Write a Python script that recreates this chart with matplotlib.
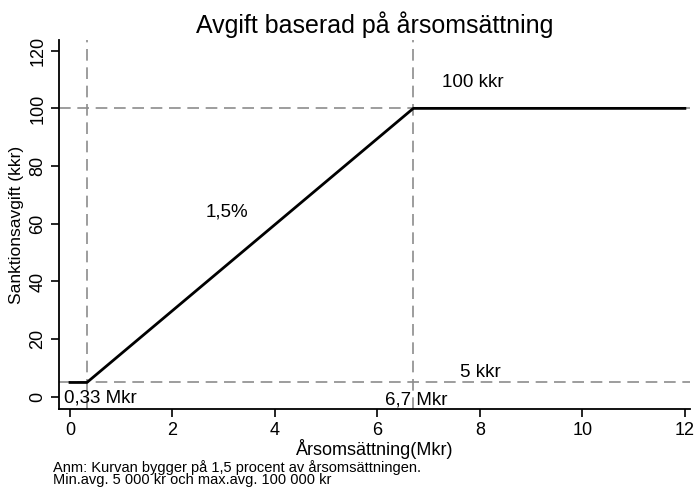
"""Sanktionsavgift som funktion av årsomsättning."""

import matplotlib

matplotlib.use("Agg")
import matplotlib.pyplot as plt

plt.rcParams["font.family"] = ["Liberation Sans", "DejaVu Sans"]

# kurvan: min 5 kkr, 1,5 % av omsättningen, max 100 kkr
omsattning = [0, 0.33, 6.7, 12]
avgift = [5, 5, 100, 100]
brytpunkter_x = [0.33, 6.7]
niva_y = [5, 100]
x_ticks = [0, 2, 4, 6, 8, 10, 12]
y_ticks = [0, 20, 40, 60, 80, 100, 120]

DASH = dict(color="0.55", lw=1.2, ls=(0, (7, 4)), zorder=1)

fig = plt.figure(figsize=(6.96, 4.94), dpi=100)
ax = fig.add_axes([59 / 696, 1 - 409 / 494, 631 / 696, 369 / 494])

for x in brytpunkter_x:
    ax.axvline(x, **DASH)
for y in niva_y:
    ax.axhline(y, **DASH)

ax.plot(omsattning, avgift, color="black", lw=2.0, zorder=3)

ax.set_xlim(-0.215, 12.1)
ax.set_ylim(-4.2, 123.7)
ax.set_xticks(x_ticks)
ax.set_yticks(y_ticks)
ax.spines["top"].set_visible(False)
ax.spines["right"].set_visible(False)
for s in ("left", "bottom"):
    ax.spines[s].set_linewidth(1.3)
ax.tick_params(direction="out", length=6, width=1.2, labelsize=13, pad=3)
for lab in ax.get_yticklabels():
    lab.set_rotation(90)
    lab.set_va("center")

ax.set_xlabel("Årsomsättning(Mkr)", fontsize=13, labelpad=0)
ax.set_ylabel("Sanktionsavgift (kkr)", fontsize=12.5, labelpad=4)
ax.set_title("Avgift baserad på årsomsättning", fontsize=18, pad=5)

tkw = dict(fontsize=13.5, ha="center", va="center", zorder=4)
ax.text(3.06, 64, "1,5%", **tkw)
ax.text(7.87, 109, "100 kkr", **tkw)
ax.text(8.0, 8.5, "5 kkr", **tkw)
ax.text(0.6, -0.5, "0,33 Mkr", **tkw)
ax.text(6.75, -1.0, "6,7 Mkr", **tkw)

fig.text(53 / 696, 1 - 460 / 494,
         "Anm: Kurvan bygger på 1,5 procent av årsomsättningen.\n"
         "Min.avg. 5 000 kr och max.avg. 100 000 kr",
         fontsize=10.5, ha="left", va="top", linespacing=0.8)

fig.savefig("out.png", dpi=100)
